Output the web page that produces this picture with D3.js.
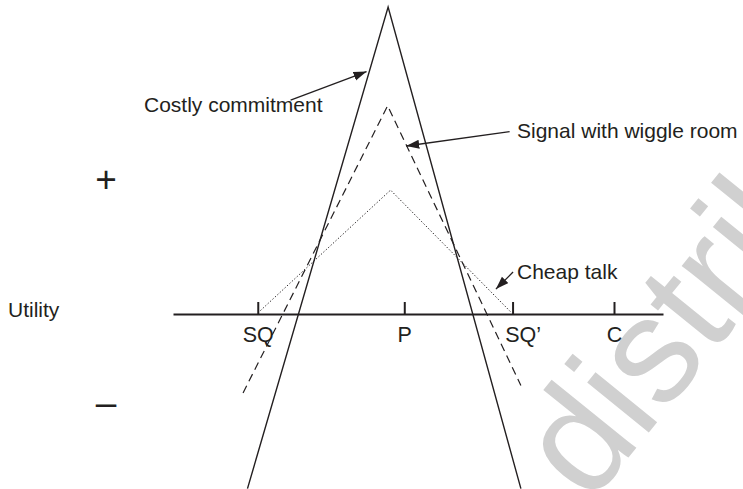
<!DOCTYPE html>
<html>
<head>
<meta charset="utf-8">
<script src="https://cdn.jsdelivr.net/npm/d3@7"></script>
<style>
  body { margin: 0; background: #fff; }
  text { font-family: "Liberation Sans", Arial, Helvetica, sans-serif; fill: #231f20; }
</style>
</head>
<body>
<svg></svg>
<script>
// policy positions on the horizontal axis (0..100) and their labels
var tickLabels = ["SQ", "P", "SQ\u2019", "C"];
var tickValues = [17.3, 47.2, 69.3, 90];

// utility curves: x position, utility (0 = axis)
var costlyX = [15.2, 43.9, 71.0];
var costlyU = [-5.82, 10.23, -5.82];
var wiggleX = [14.3, 43.8, 71.0];
var wiggleU = [-2.63, 6.94, -2.38];
var cheapX = [17.35, 44.4, 69.1];
var cheapU = [0.04, 4.13, 0.04];

// annotation arrows: [x, utility] start and tip
var noteLabels = ["Costly commitment", "Signal with wiggle room", "Cheap talk"];
var noteFrom = [[24.0, 7.13], [68.7, 6.08], [69.4, 1.4]];
var noteTo = [[39.5, 8.08], [47.6, 5.6], [65.9, 0.83]];

var width = 743,
  height = 489;

var svg = d3.select("svg").attr("width", width).attr("height", height);

var x = d3.scaleLinear().domain([0, 100]).range([173, 663]);
var y = d3.scaleLinear().domain([0, 10]).range([314, 14]);

// watermark
svg
  .append("text")
  .attr("transform", "translate(590,505) rotate(-51)")
  .attr("font-size", "150px")
  .style("fill", "#d0d0d0")
  .text("distribute");

var marker = svg
  .append("defs")
  .append("marker")
  .attr("id", "arrow")
  .attr("markerUnits", "userSpaceOnUse")
  .attr("markerWidth", 14)
  .attr("markerHeight", 10)
  .attr("refX", 13)
  .attr("refY", 4.5)
  .attr("orient", "auto");

marker.append("path").attr("d", "M0,0 L13,4.5 L0,9 Z").attr("fill", "#231f20");

// axis
var axis = d3
  .axisBottom(x)
  .tickValues(tickValues)
  .tickFormat(function (d, i) {
    return tickLabels[i];
  })
  .tickSizeInner(-12)
  .tickSizeOuter(0)
  .tickPadding(13);

var gAxis = svg.append("g").attr("transform", "translate(0," + y(0) + ")").call(axis);

gAxis.select(".domain").attr("stroke", "#231f20").attr("stroke-width", 2.2);
gAxis.selectAll(".tick line").attr("stroke", "#231f20").attr("stroke-width", 2);
gAxis
  .selectAll(".tick text")
  .attr("font-size", "21.5px")
  .attr("font-family", null)
  .attr("fill", null)
  .attr("dx", function (d, i) {
    return i == 2 ? 10 : 0;
  });

var line = d3
  .line()
  .x(function (d) {
    return x(d[0]);
  })
  .y(function (d) {
    return y(d[1]);
  });

function pairs(xs, us) {
  return xs.map(function (v, i) {
    return [v, us[i]];
  });
}

svg
  .append("path")
  .attr("d", line(pairs(cheapX, cheapU)))
  .attr("fill", "none")
  .attr("stroke", "#231f20")
  .attr("stroke-width", 1)
  .attr("stroke-dasharray", "1.3,2");

svg
  .append("path")
  .attr("d", line(pairs(wiggleX, wiggleU)))
  .attr("fill", "none")
  .attr("stroke", "#231f20")
  .attr("stroke-width", 1.2)
  .attr("stroke-dasharray", "8,5");

svg
  .append("path")
  .attr("d", line(pairs(costlyX, costlyU)))
  .attr("fill", "none")
  .attr("stroke", "#231f20")
  .attr("stroke-width", 1.4);

// arrows
svg
  .selectAll(".note")
  .data(noteLabels)
  .join("line")
  .attr("class", "note")
  .attr("x1", function (d, i) {
    return x(noteFrom[i][0]);
  })
  .attr("y1", function (d, i) {
    return y(noteFrom[i][1]);
  })
  .attr("x2", function (d, i) {
    return x(noteTo[i][0]);
  })
  .attr("y2", function (d, i) {
    return y(noteTo[i][1]);
  })
  .attr("stroke", "#231f20")
  .attr("stroke-width", 1.3)
  .attr("marker-end", "url(#arrow)");

var notePos = [[144, 112], [517, 138], [517, 279]];

svg
  .selectAll(".note-text")
  .data(noteLabels)
  .join("text")
  .attr("class", "note-text")
  .attr("x", function (d, i) {
    return notePos[i][0];
  })
  .attr("y", function (d, i) {
    return notePos[i][1];
  })
  .attr("font-size", "21px")
  .text(function (d) {
    return d;
  });

svg.append("text").attr("x", 8).attr("y", 317).attr("font-size", "21px").text("Utility");

svg
  .append("text")
  .attr("x", 106)
  .attr("y", 192)
  .attr("font-size", "37px")
  .attr("text-anchor", "middle")
  .text("+");

svg
  .append("text")
  .attr("x", 106)
  .attr("y", 415)
  .attr("font-size", "37px")
  .attr("text-anchor", "middle")
  .text("\u2013");
</script>
</body>
</html>
